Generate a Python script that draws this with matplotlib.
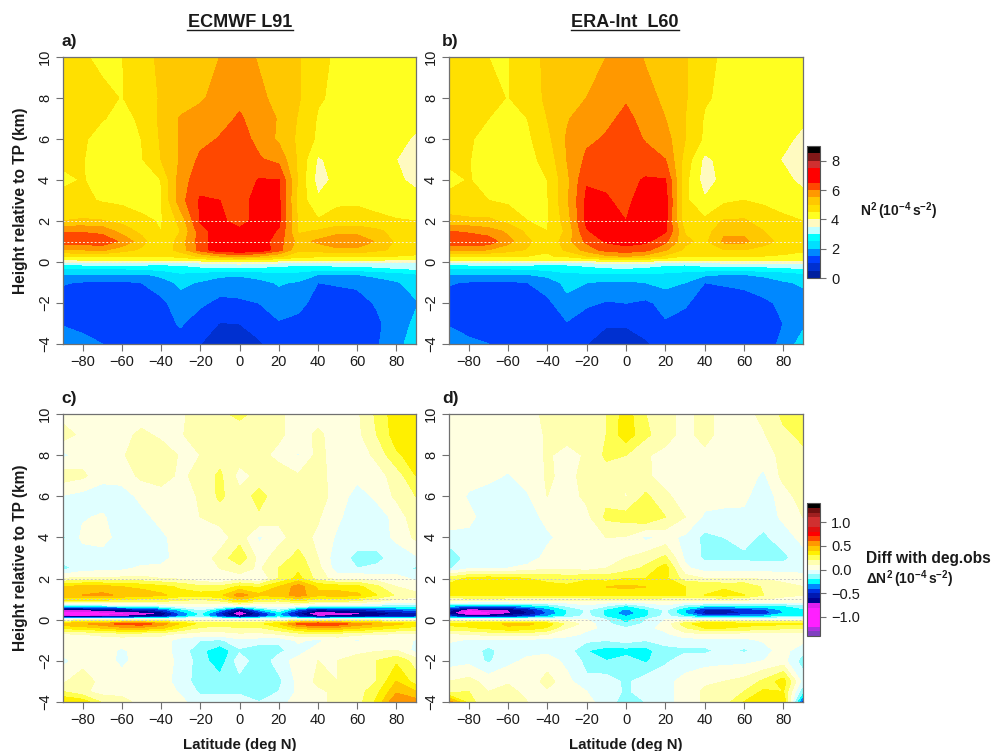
import numpy as np
import matplotlib
matplotlib.use("Agg")
import matplotlib.pyplot as plt

plt.rcParams["font.family"] = ["Liberation Sans", "DejaVu Sans"]
plt.rcParams["mathtext.fontset"] = "custom"
plt.rcParams["mathtext.bf"] = "Liberation Sans:bold"
plt.rcParams["mathtext.rm"] = "Liberation Sans"

lat = [-90, -80, -70, -60, -50, -40, -30, -20, -10, 0, 10, 20, 30, 40, 50, 60, 70, 80, 90]

# heights of the rows below, top panels
z_top = [-4, -3, -2, -1, -0.6, -0.3, -0.1, 0, 0.1, 0.3, 0.6, 1, 1.5, 2, 3, 4, 5, 6, 7, 8, 10]

n2_ecmwf = [
    [1.8, 1.65, 1.5, 1.35, 1.3, 1.3, 1.3, 1.0, 0.8, 0.8, 0.95, 1.2, 1.3, 1.3, 1.3, 1.3, 1.45, 1.8, 2.3],
    [1.45, 1.35, 1.25, 1.2, 1.2, 1.3, 1.55, 1.2, 0.98, 1.0, 1.15, 1.45, 1.35, 1.25, 1.2, 1.25, 1.4, 1.75, 2.1],
    [1.15, 1.15, 1.1, 1.1, 1.2, 1.35, 1.8, 1.6, 1.35, 1.4, 1.5, 1.75, 1.65, 1.3, 1.25, 1.3, 1.55, 1.8, 1.95],
    [1.55, 1.45, 1.4, 1.4, 1.5, 1.8, 2.1, 1.95, 1.8, 1.8, 1.85, 2.05, 1.95, 1.5, 1.55, 1.6, 1.75, 1.95, 2.2],
    [1.95, 2.0, 2.0, 2.0, 1.95, 2.1, 2.4, 2.3, 2.1, 2.05, 2.2, 2.35, 2.3, 2.0, 2.0, 2.0, 2.15, 2.25, 2.45],
    [2.55, 2.55, 2.55, 2.55, 2.6, 2.7, 2.85, 2.9, 2.9, 2.95, 2.9, 2.85, 2.8, 2.75, 2.75, 2.8, 2.9, 3.0, 3.1],
    [3.05, 3.1, 3.1, 3.1, 3.1, 3.05, 3.05, 3.2, 3.4, 3.45, 3.35, 3.15, 3.1, 3.15, 3.2, 3.2, 3.25, 3.3, 3.35],
    [3.55, 3.6, 3.6, 3.6, 3.6, 3.6, 3.6, 3.7, 3.85, 3.9, 3.85, 3.7, 3.6, 3.6, 3.65, 3.65, 3.6, 3.6, 3.55],
    [3.9, 4.0, 4.05, 4.05, 4.05, 4.05, 4.1, 4.2, 4.3, 4.4, 4.3, 4.2, 4.1, 4.1, 4.1, 4.05, 4.0, 3.95, 3.85],
    [4.55, 4.6, 4.6, 4.55, 4.55, 4.5, 4.7, 5.1, 5.5, 5.6, 5.5, 5.1, 4.7, 4.6, 4.6, 4.6, 4.55, 4.5, 4.45],
    [5.4, 5.5, 5.6, 5.2, 4.9, 4.65, 5.2, 6.2, 6.9, 7.0, 6.9, 6.2, 5.1, 5.15, 5.4, 5.4, 5.1, 4.9, 4.7],
    [6.3, 6.3, 6.3, 5.9, 5.2, 4.45, 5.25, 6.2, 6.9, 7.0, 6.8, 6.2, 5.3, 5.6, 5.8, 5.75, 5.45, 4.9, 4.6],
    [5.95, 5.95, 5.85, 5.3, 4.85, 4.5, 5.0, 6.25, 6.8, 6.6, 6.75, 6.45, 4.9, 5.05, 5.35, 5.35, 5.1, 4.8, 4.55],
    [5.0, 5.05, 5.02, 4.85, 4.6, 4.45, 5.15, 6.55, 6.6, 6.3, 6.7, 6.6, 4.9, 4.55, 4.6, 4.62, 4.6, 4.53, 4.5],
    [4.65, 4.6, 4.45, 4.38, 4.32, 4.45, 5.8, 6.55, 6.5, 6.3, 6.7, 6.6, 4.8, 4.08, 4.45, 4.45, 4.35, 4.25, 4.2],
    [4.4, 4.52, 4.35, 4.3, 4.4, 4.5, 5.75, 6.3, 6.35, 6.3, 6.52, 6.52, 4.9, 3.78, 4.15, 4.3, 4.3, 4.1, 3.85],
    [4.6, 4.52, 4.3, 4.25, 4.45, 5.0, 5.55, 6.1, 6.3, 6.3, 6.05, 5.85, 4.9, 3.92, 4.2, 4.25, 4.25, 4.0, 3.75],
    [4.65, 4.55, 4.35, 4.3, 4.5, 5.05, 5.55, 5.85, 6.03, 6.2, 5.85, 5.4, 4.9, 4.4, 4.3, 4.3, 4.3, 4.2, 3.9],
    [4.7, 4.65, 4.52, 4.4, 4.55, 5.1, 5.55, 5.7, 5.85, 6.05, 5.8, 5.45, 4.95, 4.45, 4.35, 4.3, 4.3, 4.3, 4.2],
    [4.7, 4.7, 4.6, 4.48, 4.7, 5.05, 5.2, 5.42, 5.7, 5.9, 5.6, 5.35, 5.05, 4.55, 4.4, 4.3, 4.3, 4.3, 4.3],
    [4.7, 4.55, 4.4, 4.48, 4.8, 5.1, 5.2, 5.4, 5.5, 5.7, 5.45, 5.3, 5.05, 4.65, 4.4, 4.3, 4.25, 4.25, 4.25],
]

n2_era = [
    [1.75, 1.6, 1.5, 1.35, 1.3, 1.3, 1.25, 1.0, 0.85, 0.85, 0.95, 1.15, 1.25, 1.3, 1.3, 1.3, 1.4, 1.55, 2.3],
    [1.45, 1.3, 1.2, 1.2, 1.2, 1.3, 1.45, 1.15, 1.03, 1.03, 1.15, 1.45, 1.35, 1.25, 1.2, 1.2, 1.3, 1.5, 1.85],
    [1.2, 1.15, 1.1, 1.1, 1.2, 1.35, 1.9, 1.6, 1.45, 1.5, 1.4, 1.65, 1.55, 1.3, 1.25, 1.3, 1.4, 1.6, 1.85],
    [1.55, 1.45, 1.4, 1.4, 1.5, 1.8, 2.1, 2.0, 1.9, 1.9, 2.0, 2.15, 2.0, 1.5, 1.55, 1.6, 1.75, 1.95, 2.05],
    [2.0, 2.0, 2.0, 2.0, 2.0, 2.1, 2.4, 2.4, 2.4, 2.4, 2.4, 2.4, 2.3, 2.1, 2.0, 2.0, 2.1, 2.2, 2.4],
    [2.55, 2.55, 2.55, 2.55, 2.6, 2.7, 2.75, 2.85, 2.95, 3.0, 2.9, 2.8, 2.75, 2.8, 2.8, 2.8, 2.85, 2.95, 3.0],
    [3.05, 3.1, 3.1, 3.1, 3.1, 3.05, 3.05, 3.15, 3.35, 3.4, 3.3, 3.1, 3.05, 3.2, 3.2, 3.2, 3.25, 3.3, 3.35],
    [3.7, 3.7, 3.7, 3.7, 3.7, 3.65, 3.55, 3.6, 3.8, 3.85, 3.75, 3.6, 3.55, 3.65, 3.7, 3.7, 3.7, 3.7, 3.7],
    [4.1, 4.1, 4.1, 4.1, 4.1, 4.05, 4.05, 4.15, 4.25, 4.3, 4.25, 4.15, 4.05, 4.1, 4.1, 4.1, 4.1, 4.05, 4.0],
    [4.5, 4.55, 4.55, 4.55, 4.5, 4.45, 4.6, 5.0, 5.4, 5.55, 5.35, 4.9, 4.5, 4.5, 4.55, 4.5, 4.5, 4.45, 4.4],
    [5.55, 5.6, 5.5, 5.2, 4.95, 4.55, 5.1, 5.7, 6.2, 6.3, 6.15, 5.55, 4.9, 4.9, 5.0, 5.0, 4.8, 4.65, 4.55],
    [6.3, 6.4, 6.3, 5.65, 5.1, 4.55, 5.3, 6.1, 6.55, 6.7, 6.6, 6.1, 5.1, 4.85, 5.6, 5.6, 5.2, 4.8, 4.6],
    [6.0, 5.9, 5.7, 5.4, 4.85, 4.5, 5.1, 6.45, 6.75, 6.8, 6.7, 6.55, 4.95, 4.75, 5.4, 5.4, 5.0, 4.7, 4.55],
    [5.15, 5.1, 5.1, 4.85, 4.5, 4.45, 5.25, 6.6, 6.7, 6.5, 6.7, 6.65, 4.6, 4.6, 5.05, 5.05, 4.8, 4.6, 4.5],
    [4.65, 4.55, 4.5, 4.4, 4.35, 4.45, 5.4, 6.6, 6.55, 6.35, 6.8, 6.7, 4.6, 4.05, 4.4, 4.5, 4.4, 4.3, 4.2],
    [4.35, 4.52, 4.35, 4.3, 4.35, 4.5, 5.35, 6.45, 6.4, 6.35, 6.55, 6.52, 4.65, 3.75, 4.15, 4.3, 4.3, 4.15, 3.85],
    [4.6, 4.52, 4.3, 4.25, 4.35, 4.65, 5.5, 6.1, 6.35, 6.4, 6.2, 6.0, 4.8, 3.85, 4.2, 4.25, 4.25, 3.95, 3.75],
    [4.65, 4.55, 4.35, 4.3, 4.4, 4.85, 5.55, 5.9, 6.05, 6.25, 5.95, 5.7, 5.0, 4.4, 4.3, 4.3, 4.25, 4.15, 3.85],
    [4.7, 4.65, 4.5, 4.4, 4.5, 5.0, 5.45, 5.75, 5.9, 6.1, 5.85, 5.5, 5.0, 4.45, 4.35, 4.3, 4.3, 4.25, 4.1],
    [4.7, 4.7, 4.62, 4.48, 4.7, 5.1, 5.25, 5.5, 5.75, 5.95, 5.65, 5.4, 5.05, 4.55, 4.4, 4.3, 4.3, 4.3, 4.25],
    [4.7, 4.55, 4.5, 4.47, 4.8, 5.1, 5.2, 5.4, 5.5, 5.75, 5.45, 5.3, 5.05, 4.65, 4.4, 4.3, 4.25, 4.25, 4.25],
]

# heights of the rows below, difference panels
z_diff = [-4, -3.5, -3, -2, -1.5, -1, -0.7, -0.4, -0.2, 0, 0.15, 0.3, 0.5, 0.7, 0.9, 1.2, 1.6, 2, 2.5, 3, 4, 5, 6, 7, 8, 9, 10]

diff_ecmwf = [
    [0.4, 0.36, 0.18, 0.15, 0.05, 0.03, 0.02, -0.05, -0.05, -0.05, -0.1, -0.03, 0.03, 0.08, 0.12, 0.15, 0.32, 0.6, 0.55],
    [0.2, 0.12, 0.06, 0.05, 0.04, 0.04, -0.01, -0.12, -0.12, -0.12, -0.14, -0.1, 0.02, 0.08, 0.12, 0.15, 0.27, 0.48, 0.4],
    [0.08, 0.17, 0.05, 0.05, 0.05, 0.05, -0.05, -0.15, -0.16, -0.14, -0.17, -0.13, 0.03, 0.12, 0.1, 0.13, 0.2, 0.4, 0.25],
    [-0.03, 0.05, 0.06, -0.03, 0.05, 0.05, -0.03, -0.15, -0.27, -0.04, -0.18, -0.05, 0.04, 0.1, 0.1, 0.13, 0.2, 0.28, 0.15],
    [0.03, 0.06, 0.05, -0.02, 0.05, 0.05, -0.05, -0.17, -0.28, -0.12, -0.18, -0.13, -0.05, 0.05, 0.07, 0.08, 0.09, 0.1, -0.04],
    [0.05, 0.05, 0.05, 0.05, 0.05, 0.05, -0.05, -0.1, -0.12, -0.03, -0.05, -0.08, 0.02, -0.03, 0.05, -0.02, 0.05, 0.05, -0.01],
    [0.08, 0.1, 0.12, 0.14, 0.13, 0.12, 0.07, 0.05, 0.05, 0.08, 0.07, 0.1, 0.14, 0.15, 0.14, 0.12, 0.1, 0.08, 0.06],
    [0.32, 0.35, 0.4, 0.46, 0.46, 0.42, 0.28, 0.18, 0.16, 0.18, 0.18, 0.27, 0.42, 0.47, 0.46, 0.4, 0.35, 0.3, 0.26],
    [0.45, 0.48, 0.55, 0.63, 0.65, 0.55, 0.38, 0.27, 0.26, 0.28, 0.27, 0.38, 0.62, 0.7, 0.65, 0.55, 0.48, 0.42, 0.36],
    [0.05, 0.05, 0.05, 0.05, 0.05, 0.05, 0.05, 0.05, 0.05, 0.06, 0.05, 0.05, 0.05, 0.05, 0.05, 0.05, 0.05, 0.05, 0.05],
    [-0.75, -0.8, -0.75, -0.7, -0.65, -0.6, -0.35, -0.15, -0.45, -0.7, -0.5, -0.25, -0.5, -0.7, -0.65, -0.65, -0.6, -0.55, -0.5],
    [-1.0, -0.95, -0.9, -0.85, -0.8, -0.72, -0.4, -0.2, -0.5, -0.85, -0.55, -0.3, -0.6, -0.85, -0.8, -0.75, -0.72, -0.6, -0.55],
    [-0.7, -0.7, -0.65, -0.6, -0.55, -0.45, -0.25, -0.1, -0.3, -0.65, -0.3, -0.12, -0.4, -0.6, -0.55, -0.5, -0.45, -0.4, -0.35],
    [-0.2, -0.2, -0.15, -0.12, -0.1, -0.05, 0.02, 0.04, 0.03, -0.02, 0.03, 0.04, 0.0, -0.1, -0.08, -0.08, -0.12, -0.15, -0.15],
    [0.25, 0.25, 0.25, 0.22, 0.2, 0.2, 0.17, 0.14, 0.18, 0.35, 0.2, 0.18, 0.28, 0.2, 0.2, 0.17, 0.1, 0.06, 0.05],
    [0.48, 0.5, 0.52, 0.48, 0.44, 0.42, 0.34, 0.34, 0.36, 0.55, 0.42, 0.44, 0.55, 0.42, 0.44, 0.42, 0.3, 0.18, 0.12],
    [0.4, 0.44, 0.44, 0.4, 0.38, 0.33, 0.28, 0.22, 0.22, 0.32, 0.28, 0.4, 0.55, 0.38, 0.36, 0.33, 0.22, 0.1, 0.06],
    [0.1, 0.12, 0.12, 0.12, 0.12, 0.1, 0.08, 0.02, -0.02, 0.05, -0.02, 0.2, 0.33, 0.15, 0.05, 0.08, 0.05, 0.03, -0.02],
    [-0.14, -0.06, -0.04, -0.03, 0.02, 0.03, 0.05, 0.05, 0.1, 0.15, 0.08, 0.2, 0.28, 0.13, -0.06, -0.1, -0.08, -0.05, -0.12],
    [-0.05, -0.05, -0.05, -0.05, -0.06, -0.05, 0.06, 0.05, 0.13, 0.28, 0.06, 0.14, 0.24, 0.1, -0.07, -0.12, -0.13, -0.06, -0.02],
    [-0.12, 0.02, 0.04, -0.05, -0.05, -0.03, 0.06, 0.06, 0.05, 0.15, -0.02, 0.07, 0.14, 0.08, -0.02, -0.07, -0.05, 0.02, 0.12],
    [-0.03, -0.01, 0.01, -0.05, -0.04, 0.04, 0.06, 0.1, 0.14, 0.14, 0.18, 0.12, 0.12, 0.11, 0.02, -0.07, -0.05, 0.03, 0.17],
    [-0.01, -0.04, -0.05, -0.06, 0.03, 0.06, 0.06, 0.11, 0.22, 0.13, 0.24, 0.13, 0.12, 0.14, 0.06, -0.05, 0.02, 0.12, 0.2],
    [0.15, 0.12, 0.03, 0.05, 0.12, 0.14, 0.08, 0.13, 0.22, 0.06, 0.13, 0.15, 0.11, 0.13, 0.06, 0.03, 0.06, 0.14, 0.3],
    [-0.03, 0.05, 0.05, 0.09, 0.14, 0.15, 0.09, 0.1, 0.15, 0.15, 0.13, 0.07, -0.01, 0.13, 0.05, 0.05, 0.12, 0.28, 0.35],
    [0.15, 0.07, 0.05, 0.07, 0.12, 0.08, 0.09, 0.15, 0.15, 0.15, 0.15, 0.12, 0.05, 0.12, 0.05, 0.07, 0.2, 0.35, 0.38],
    [0.05, 0.05, 0.05, 0.05, 0.05, 0.05, 0.08, 0.15, 0.18, 0.22, 0.17, 0.12, 0.05, 0.05, 0.05, 0.08, 0.22, 0.36, 0.38],
]

diff_era = [
    [0.55, 0.25, 0.1, 0.18, 0.1, 0.05, 0.03, 0.03, -0.05, -0.15, -0.1, -0.03, 0.03, 0.12, 0.15, 0.3, 0.35, 0.4, -0.5],
    [0.15, 0.2, 0.1, 0.15, 0.05, 0.08, 0.03, 0.0, -0.04, -0.12, -0.05, -0.03, 0.03, 0.12, 0.12, 0.2, 0.32, 0.3, -0.2],
    [0.1, 0.13, 0.06, 0.08, 0.03, 0.14, 0.03, -0.08, -0.05, -0.12, -0.05, -0.03, 0.03, 0.08, 0.1, 0.13, 0.22, 0.35, -0.05],
    [-0.05, -0.03, -0.12, -0.03, 0.02, 0.05, -0.03, -0.13, -0.2, -0.15, -0.22, -0.12, -0.05, -0.04, -0.03, -0.03, 0.0, 0.03, -0.15],
    [-0.12, -0.03, -0.14, -0.03, -0.03, -0.03, -0.05, -0.2, -0.25, -0.25, -0.25, -0.12, -0.12, -0.13, -0.06, -0.12, -0.04, 0.04, -0.08],
    [0.03, -0.03, -0.04, -0.03, -0.03, -0.05, -0.07, -0.08, -0.1, -0.06, -0.1, -0.08, -0.05, -0.04, -0.03, -0.03, 0.01, 0.04, 0.03],
    [0.08, 0.1, 0.13, 0.14, 0.14, 0.1, 0.05, -0.03, -0.06, -0.05, -0.06, -0.02, 0.06, 0.08, 0.06, 0.05, 0.05, 0.04, 0.04],
    [0.25, 0.28, 0.32, 0.38, 0.36, 0.28, 0.1, 0.03, -0.03, -0.1, -0.03, 0.03, 0.18, 0.3, 0.3, 0.27, 0.25, 0.22, 0.2],
    [0.33, 0.35, 0.35, 0.42, 0.42, 0.35, 0.17, 0.05, -0.07, -0.2, -0.08, 0.03, 0.25, 0.38, 0.36, 0.34, 0.32, 0.32, 0.32],
    [0.03, 0.03, 0.03, 0.03, 0.03, 0.03, 0.03, 0.0, -0.1, -0.25, -0.1, 0.0, 0.03, 0.03, 0.03, 0.03, 0.03, 0.03, 0.03],
    [-0.45, -0.6, -0.6, -0.55, -0.45, -0.3, -0.18, -0.06, -0.22, -0.3, -0.22, -0.06, -0.2, -0.35, -0.35, -0.3, -0.28, -0.22, -0.2],
    [-0.65, -0.95, -0.85, -0.72, -0.62, -0.4, -0.2, -0.08, -0.22, -0.38, -0.22, -0.08, -0.3, -0.55, -0.55, -0.5, -0.48, -0.3, -0.25],
    [-0.55, -0.8, -0.75, -0.7, -0.55, -0.35, -0.2, -0.08, -0.22, -0.32, -0.22, -0.08, -0.3, -0.5, -0.52, -0.45, -0.42, -0.28, -0.22],
    [-0.25, -0.3, -0.3, -0.3, -0.25, -0.2, -0.08, -0.01, -0.08, -0.2, -0.08, -0.01, -0.13, -0.2, -0.2, -0.2, -0.2, -0.2, -0.15],
    [0.05, 0.05, 0.05, 0.05, 0.05, 0.05, 0.05, 0.05, 0.05, 0.05, 0.05, 0.05, 0.05, 0.05, 0.05, 0.05, 0.05, 0.05, 0.05],
    [0.3, 0.33, 0.33, 0.32, 0.32, 0.3, 0.3, 0.32, 0.33, 0.33, 0.33, 0.32, 0.3, 0.3, 0.34, 0.3, 0.2, 0.12, 0.1],
    [0.33, 0.36, 0.4, 0.36, 0.34, 0.32, 0.32, 0.36, 0.4, 0.42, 0.4, 0.35, 0.3, 0.3, 0.28, 0.28, 0.18, 0.13, 0.1],
    [0.25, 0.32, 0.35, 0.33, 0.3, 0.28, 0.25, 0.28, 0.25, 0.3, 0.3, 0.32, 0.15, 0.1, 0.09, 0.1, 0.09, 0.07, 0.05],
    [-0.12, -0.02, -0.01, 0.0, 0.03, 0.08, 0.08, 0.05, 0.1, 0.15, 0.22, 0.35, 0.02, -0.05, -0.05, -0.05, -0.05, -0.05, -0.05],
    [-0.2, -0.05, -0.04, -0.05, -0.05, 0.03, 0.05, 0.03, 0.04, 0.1, 0.15, 0.22, -0.02, -0.12, -0.12, -0.12, -0.13, -0.13, -0.04],
    [-0.03, -0.02, -0.04, -0.06, -0.05, -0.02, 0.04, 0.06, 0.1, 0.09, -0.03, 0.03, -0.02, -0.13, -0.1, -0.07, -0.12, -0.05, 0.03],
    [0.05, 0.02, -0.04, -0.05, -0.05, 0.03, 0.06, 0.07, 0.22, 0.24, 0.3, 0.2, 0.1, -0.02, -0.04, -0.02, -0.06, 0.02, 0.1],
    [0.05, -0.01, -0.05, -0.05, -0.01, 0.1, 0.06, 0.12, 0.17, 0.09, 0.22, 0.12, 0.05, 0.05, 0.05, 0.02, -0.06, 0.05, 0.15],
    [0.05, 0.03, 0.03, -0.01, 0.04, 0.11, 0.08, 0.12, 0.15, 0.12, 0.12, 0.05, 0.05, 0.05, 0.05, 0.05, -0.02, 0.13, 0.17],
    [0.05, 0.05, 0.05, 0.05, 0.05, 0.11, 0.07, 0.11, 0.22, 0.2, 0.11, 0.07, 0.05, 0.07, 0.05, 0.05, 0.05, 0.13, 0.18],
    [0.05, 0.05, 0.05, 0.05, 0.06, 0.11, 0.13, 0.14, 0.2, 0.36, 0.22, 0.14, 0.06, 0.14, 0.05, 0.05, 0.09, 0.18, 0.22],
    [0.05, 0.05, 0.05, 0.05, 0.07, 0.12, 0.13, 0.14, 0.2, 0.35, 0.2, 0.13, 0.07, 0.13, 0.06, 0.06, 0.13, 0.22, 0.22],
]

n2_levels = [0, 0.5, 1, 1.5, 2, 2.5, 3, 3.5, 4, 4.5, 5, 5.5, 6, 6.5, 7, 7.5, 8, 8.5, 9]
n2_colors = ["#001f9e", "#0030d0", "#0040ff", "#0088ff", "#00e0ff", "#00ffff", "#c0ffff", "#fffac0",
             "#ffff20", "#ffe000", "#ffc800", "#ff9800", "#ff4800", "#ff0000", "#ff0000", "#d03030",
             "#801818", "#000000"]
n2_ticks = [0, 2, 4, 6, 8]

diff_levels = [-1.4, -1.3, -1.2, -1.1, -1.0, -0.9, -0.8, -0.7, -0.6, -0.5, -0.4, -0.3, -0.2, -0.1, 0,
               0.1, 0.2, 0.3, 0.4, 0.5, 0.6, 0.7, 0.8, 0.9, 1.0, 1.1, 1.2, 1.3, 1.4]
diff_colors = ["#8040c0", "#b030e0", "#ff20ff", "#ff20ff", "#ff20ff", "#ff20ff", "#e020f0", "#000090",
               "#0018b0", "#0030e0", "#0088ff", "#00ffff", "#90ffff", "#e0ffff", "#ffffe0", "#ffffb0",
               "#ffff50", "#fff000", "#ffc800", "#ff9800", "#ff4800", "#ff0000", "#e01010", "#d03030",
               "#d03030", "#a02020", "#701010", "#000000"]
diff_ticks = [-1.0, -0.5, 0.0, 0.5, 1.0]

lat_ticks = [-80, -60, -40, -20, 0, 20, 40, 60, 80]
z_ticks = [-4, -2, 0, 2, 4, 6, 8, 10]
tp_lines = [0, 1, 2]

W, H = 996, 751
GREY = "#707070"
TXT = "#1a1a1a"


def px_axes(fig, x0, y0, x1, y1):
    # pixel box with y counted from the top of the picture
    return fig.add_axes([x0 / W, 1 - y1 / H, (x1 - x0) / W, (y1 - y0) / H])


def panel(fig, box, z, values, levels, colors, tag, tag_x, line_color, ylabel=False, xlabel=False):
    ax = px_axes(fig, *box)
    cf = ax.contourf(lat, z, np.array(values), levels=levels, colors=colors)
    cf.set_edgecolor("face")
    cf.set_linewidth(0.3)
    for h in tp_lines:
        ax.axhline(h, color=line_color, lw=0.7, dashes=(2, 2))
    ax.set_xlim(-90, 90)
    ax.set_ylim(-4, 10)
    ax.set_xticks(lat_ticks)
    ax.set_xticklabels([str(v).replace("-", "\u2212") for v in lat_ticks])
    ax.set_yticks(z_ticks)
    ax.set_yticklabels([str(v).replace("-", "\u2212") for v in z_ticks], rotation=90, va="center")
    ax.tick_params(length=5, width=0.8, color=GREY, labelcolor=TXT, labelsize=10.5, pad=3)
    for s in ax.spines.values():
        s.set_color(GREY)
        s.set_linewidth(0.9)
    if ylabel:
        ax.set_ylabel("Height relative to TP (km)", fontsize=11.2, fontweight="bold", color=TXT, labelpad=7)
    if xlabel:
        ax.set_xlabel("Latitude (deg N)", fontsize=10.8, fontweight="bold", color=TXT, labelpad=8)
    fig.text(tag_x / W, 1 - (box[1] - 11) / H, tag, fontsize=12.5, fontweight="bold", color=TXT,
             ha="left", va="baseline")
    return cf


def colorbar(fig, cf, box, ticks, fmt):
    cax = px_axes(fig, *box)
    cb = fig.colorbar(cf, cax=cax, ticks=ticks, drawedges=False)
    cb.ax.set_yticklabels([fmt(t).replace("-", "\u2212") for t in ticks])
    cb.ax.tick_params(length=4, width=0.8, color=GREY, labelcolor=TXT, labelsize=10.5, pad=4)
    cb.outline.set_edgecolor("#555555")
    cb.outline.set_linewidth(0.8)


fig = plt.figure(figsize=(W / 100, H / 100), dpi=100)

cf_a = panel(fig, (63, 57, 416, 344), z_top, n2_ecmwf, n2_levels, n2_colors, "a)", 61, "#f4f0d8", ylabel=True)
panel(fig, (449, 57, 803, 344), z_top, n2_era, n2_levels, n2_colors, "b)", 442, "#f4f0d8")
cf_c = panel(fig, (63, 414, 416, 702), z_diff, diff_ecmwf, diff_levels, diff_colors, "c)", 61, "#c8c8c8",
             ylabel=True, xlabel=True)
panel(fig, (449, 414, 803, 702), z_diff, diff_era, diff_levels, diff_colors, "d)", 442, "#c8c8c8", xlabel=True)

colorbar(fig, cf_a, (807, 146, 820, 278), n2_ticks, lambda t: f"{t:d}")
colorbar(fig, cf_c, (807, 503, 820, 636), diff_ticks, lambda t: f"{t:.1f}")

# titles with an underline
for cx, title, half in [(240, "ECMWF L91", 53), (625, "ERA-Int  L60", 54)]:
    fig.text(cx / W, 1 - 27 / H, title, fontsize=13, fontweight="bold", color=TXT, ha="center", va="baseline")
    fig.add_artist(plt.Line2D([(cx - half) / W, (cx + half) / W], [1 - 30 / H, 1 - 30 / H], color=TXT, lw=1.0))

fig.text(860 / W, 1 - 216 / H, r"$\mathbf{N^2\,(10^{-4}\,s^{-2})}$", fontsize=10, color=TXT, ha="left", va="baseline")
fig.text(866 / W, 1 - 563 / H, "Diff with deg.obs", fontsize=11.2, fontweight="bold", color=TXT, ha="left", va="baseline")
fig.text(866 / W, 1 - 584 / H, r"$\mathbf{\Delta N^2\,(10^{-4}\,s^{-2})}$", fontsize=10, color=TXT, ha="left", va="baseline")

fig.savefig("out.png", dpi=100)
